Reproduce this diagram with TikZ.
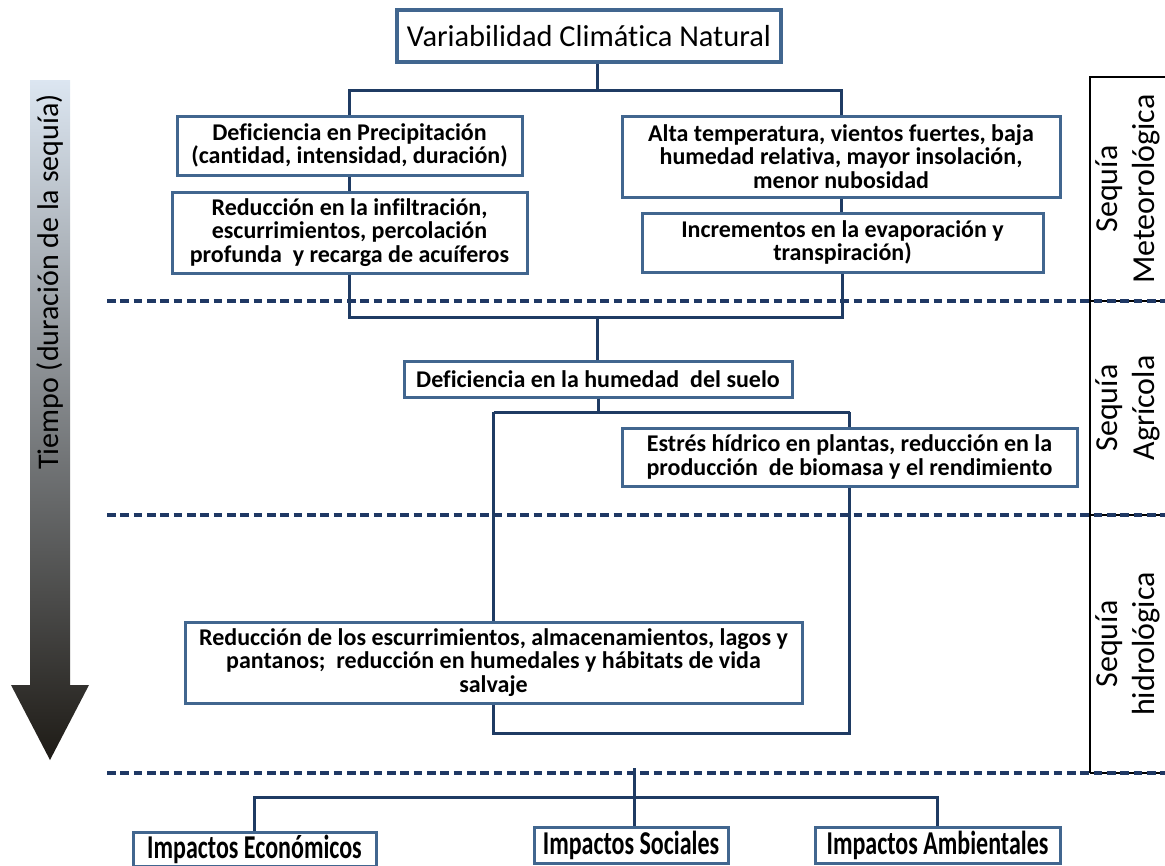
\documentclass[tikz,border=0pt]{standalone}
\usepackage{fontspec}
\setmainfont{Carlito}[Ligatures=NoCommon]
\usepackage{graphicx}
\definecolor{boxc}{HTML}{41668F}
\definecolor{linec}{HTML}{1F3B63}
\definecolor{dashc}{HTML}{1F3864}
\definecolor{arrtop}{HTML}{DCE6F1}
\definecolor{arrmid}{HTML}{9BA5AF}
\definecolor{arrbot}{HTML}{1E1B16}
\tikzset{
  bsize/.style 2 args={minimum width=#1*0.75pt, minimum height=#2*0.75pt},
  bx/.style={draw=boxc, line width=2.25pt, fill=white, inner sep=0pt, align=center,
    font=\fontsize{18}{17.5}\selectfont\bfseries},
  topbx/.style={draw=boxc, line width=3.4pt, fill=white, inner sep=0pt, align=center,
    font=\fontsize{22.8}{26}\selectfont},
  impbx/.style={draw=boxc, line width=2.25pt, fill=white, inner sep=0pt, align=center,
    font=\fontsize{25}{28}\selectfont\bfseries},
  conn/.style={draw=linec, line width=2.25pt},
  sep/.style={draw=dashc, line width=2.4pt, dash pattern=on 6.5pt off 3.5pt},
  brk/.style={draw=black, line width=1pt},
  lbl/.style={rotate=90, align=center, font=\fontsize{24}{28}\selectfont}
}
\begin{document}
\begin{tikzpicture}[x=0.75pt,y=-0.75pt]
\useasboundingbox (0,0) rectangle (1165,865);
% time arrow
\shade[top color=arrtop, middle color=arrmid, bottom color=arrbot]
  (30,80) -- (70,80) -- (70,685) -- (89,685) -- (50,760) -- (11,685) -- (30,685) -- cycle;
\node[rotate=90, font=\fontsize{22.5}{26}\selectfont] (tiempo) at (50,282) {Tiempo (duración de la sequía)};
% separators
\coordinate (d1a) at (107,301); \coordinate (d1b) at (1165,301);
\coordinate (d2a) at (107,515); \coordinate (d2b) at (1165,515);
\coordinate (d3a) at (107,773); \coordinate (d3b) at (1165,773);
\draw[brk] (1090,301) -- (d1b);
\draw[brk] (1090,515) -- (d2b);
\draw[brk] (1090,773) -- (d3b);
\draw[sep] (d1a) -- (d1b);
\draw[sep] (d2a) -- (d2b);
\draw[sep] (d3a) -- (d3b);
% right bracket
\coordinate (bt) at (1090,77); \coordinate (btr) at (1165,77); \coordinate (bb) at (1090,773);
\draw[brk] (btr) -- (bt) -- (bb);
\node[lbl] (met) at (1128,189) {Sequía\\Meteorológica};
\node[lbl] (agr) at (1128,408) {Sequía\\Agrícola};
\node[lbl] (hid) at (1128,644) {Sequía\\hidrológica};
% nodes
\node[topbx, bsize={384}{52}] (top) at (589,36) {Variabilidad Climática Natural};
\node[bx, bsize={345}{59}] (A) at (349.5,145.5) {Deficiencia en Precipitación\\(cantidad, intensidad, duración)};
\node[bx, bsize={355}{81}] (B) at (349.5,232.5) {Reducción en la infiltración,\\escurrimientos, percolación\\profunda\ \ y recarga de acuíferos};
\node[bx, bsize={438}{81}] (C) at (841,156.5) {Alta temperatura, vientos fuertes, baja\\humedad relativa, mayor insolación,\\menor nubosidad};
\node[bx, bsize={401}{59}] (D) at (842.5,242.5) {Incrementos en la evaporación y\\transpiración)};
\node[bx, bsize={388}{36}] (E) at (598,379) {Deficiencia en la humedad\ \ del suelo};
\node[bx, bsize={455}{58}] (F) at (849.5,457) {Estrés hídrico en plantas, reducción en la\\producción\ \ de biomasa y el rendimiento};
\node[bx, bsize={617}{81}] (G) at (493.5,662.5) {Reducción de los escurrimientos, almacenamientos, lagos y\\pantanos;\ \ reducción en humedales y hábitats de vida\\salvaje};
\node[impbx, bsize={243}{34}] (eco) at (254.5,849) {\scalebox{0.72}[1]{Impactos Económicos}};
\node[impbx, bsize={194}{36}] (soc) at (631,845) {\scalebox{0.72}[1]{Impactos Sociales}};
\node[impbx, bsize={245}{36}] (amb) at (937.5,845) {\scalebox{0.72}[1]{Impactos Ambientales}};
% connectors
\coordinate (j1) at (597,90);
\draw[conn] (top.south -| j1) -- (j1);
\draw[conn] (A.north) |- (j1) -| (C.north);
\draw[conn] (A.south) -- (B.north);
\draw[conn] (C.south) -- (C.south |- D.north);
\coordinate (j2) at (597,317);
\draw[conn] (B.south) |- (j2) -| (D.south);
\draw[conn] (j2) -- (j2 |- E.north);
\coordinate (j3) at (598,412);
\coordinate (L) at (493.5,412); \coordinate (R) at (849.5,412);
\coordinate (Lb) at (493.5,733); \coordinate (Rb) at (849.5,733);
\draw[conn] (E.south) -- (j3);
\draw[conn] (L) -- (R);
\draw[conn] (L) -- (G.north);
\draw[conn] (R) -- (F.north);
\draw[conn] (G.south) -- (Lb) -- (Rb) -- (F.south);
\coordinate (k0) at (634,768); \coordinate (k) at (634,797);
\draw[conn] (k0) -- (k);
\draw[conn] (eco.north) |- (k) -| (amb.north);
\draw[conn] (k) -- (k |- soc.north);
\end{tikzpicture}
\end{document}
